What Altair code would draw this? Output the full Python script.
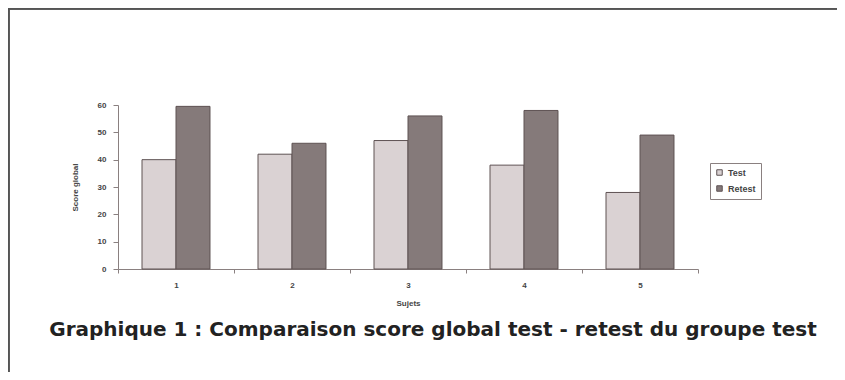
import altair as alt
import pandas as pd

sujets = ["1", "2", "3", "4", "5"]
test_scores = [40, 42, 47, 38, 28]
retest_scores = [59.5, 46, 56, 58, 49]
series = ["Test", "Retest"]
caption = ["Graphique 1 : Comparaison score global test - retest du groupe test"]

rows = []
for s, t, r in zip(sujets, test_scores, retest_scores):
    rows.append({"Sujets": s, "Série": "Test", "Score": t})
    rows.append({"Sujets": s, "Série": "Retest", "Score": r})
df = pd.DataFrame(rows)

font = "Liberation Sans"

bars = alt.Chart(df).mark_bar(stroke="#5e5253", strokeWidth=1).encode(
    x=alt.X("Sujets:N", sort=sujets,
            scale=alt.Scale(paddingInner=0, paddingOuter=0),
            axis=alt.Axis(title="Sujets", labelAngle=0, tickBand="extent",
                          tickSize=4, labelPadding=8, titlePadding=10,
                          labelFontSize=8, titleFontSize=8,
                          labelFontWeight="bold", titleFontWeight="bold",
                          labelColor="#444", titleColor="#444",
                          domainColor="#8a8080", tickColor="#8a8080",
                          labelFont=font, titleFont=font)),
    xOffset=alt.XOffset("Série:N", sort=series,
                        scale=alt.Scale(paddingInner=0, paddingOuter=0.706)),
    y=alt.Y("Score:Q", scale=alt.Scale(domain=[0, 60]),
            axis=alt.Axis(title="Score global", values=[0, 10, 20, 30, 40, 50, 60],
                          grid=False, tickSize=5, labelPadding=7, titlePadding=18,
                          labelFontSize=8, titleFontSize=8,
                          labelFontWeight="bold", titleFontWeight="bold",
                          labelColor="#444", titleColor="#444",
                          domainColor="#8a8080", tickColor="#8a8080",
                          labelFont=font, titleFont=font)),
    color=alt.Color("Série:N", sort=series,
                    scale=alt.Scale(domain=series, range=["#dad2d3", "#857a7a"]),
                    legend=alt.Legend(title=None, orient="none", legendX=592, legendY=58,
                                      symbolType="square", symbolSize=30,
                                      symbolStrokeColor="#5e5253", symbolStrokeWidth=1,
                                      labelFontSize=9, labelFont=font, labelFontWeight="bold",
                                      labelColor="#444", padding=5, rowPadding=5,
                                      labelLimit=60, symbolOffset=0,
                                      strokeColor="#8a8080", fillColor="white")),
)

title_text = alt.Chart(pd.DataFrame({"t": caption})).mark_text(
    font="DejaVu Sans", fontSize=20, fontWeight="bold", color="#222",
    align="center", baseline="middle"
).encode(text="t:N", x=alt.value(315), y=alt.value(225))

frame_left = alt.Chart(df).mark_rule(color="#555555", strokeWidth=1.5).encode(
    x=alt.value(-109.5), y=alt.value(-96.5), y2=alt.value(270)
)
frame_top = alt.Chart(df).mark_rule(color="#555555", strokeWidth=1.5).encode(
    x=alt.value(-109.5), x2=alt.value(740), y=alt.value(-96.5)
)

chart = alt.layer(bars, title_text, frame_left, frame_top).properties(
    width=580, height=164,
    autosize=alt.AutoSizeParams(type="none"),
    padding={"left": 110, "top": 97, "right": 139, "bottom": 103},
).configure_view(stroke=None)

chart.save("out.html", embed_options={"renderer": "svg", "actions": False})
